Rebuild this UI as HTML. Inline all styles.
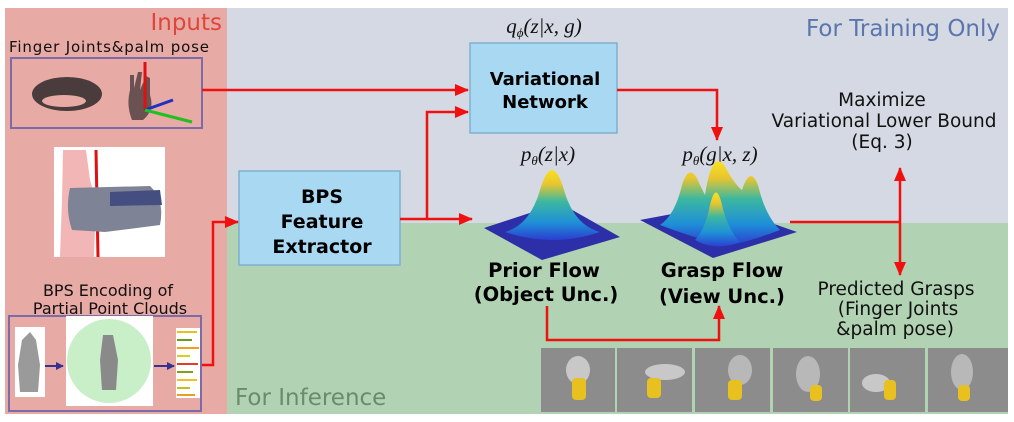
<!DOCTYPE html>
<html><head><meta charset="utf-8"><style>
html,body{margin:0;padding:0;background:#fff;}
svg{display:block;font-family:"DejaVu Sans","Liberation Sans",sans-serif;}
</style></head><body>
<svg width="1014" height="422" viewBox="0 0 1014 422" xmlns="http://www.w3.org/2000/svg">
<defs>
<linearGradient id="bell" x1="0" y1="0" x2="0" y2="1">
<stop offset="0" stop-color="#f9e11e"/><stop offset="0.2" stop-color="#e8c530"/><stop offset="0.45" stop-color="#3cb8a0"/><stop offset="0.75" stop-color="#1f8fd8"/><stop offset="1" stop-color="#2a3fd0"/>
</linearGradient>
<marker id="ah2" markerWidth="14" markerHeight="12" refX="13" refY="6" orient="auto" markerUnits="userSpaceOnUse"><path d="M0,0 L14,6 L0,12 Z" fill="#f01010"/></marker>
<marker id="bah" markerWidth="8" markerHeight="8" refX="7" refY="4" orient="auto" markerUnits="userSpaceOnUse"><path d="M0,0 L8,4 L0,8 Z" fill="#3a3090"/></marker>
</defs>
<rect x="5" y="8" width="222" height="406" fill="#e8aaa4"/>
<rect x="227" y="8" width="781" height="215" fill="#d5d9e3"/>
<rect x="227" y="223" width="781" height="191" fill="#b1d3b3"/>
<text x="222" y="30" font-size="23" fill="#e0453c" text-anchor="end">Inputs</text>
<text x="1000" y="36" font-size="23" fill="#5b76ad" text-anchor="end">For Training Only</text>
<text x="235" y="405" font-size="23" fill="#6a8c6c">For Inference</text>
<text x="9" y="52" font-size="15" fill="#111" textLength="200">Finger Joints&amp;palm pose</text>
<rect x="11" y="58" width="191" height="70" fill="none" stroke="#7d6aa8" stroke-width="2"/>
<ellipse cx="67" cy="94" rx="35" ry="17" fill="#4a3c3c"/>
<ellipse cx="64" cy="101" rx="22" ry="6" fill="#e8aaa4"/>
<path d="M130 90 L130 75 L134 75 L134 88 L138 72 L142 72 L140 90 L146 76 L150 78 L150 95 Q155 110 143 120 L132 120 Q126 105 130 90Z" fill="#6a5252"/>
<line x1="145" y1="110" x2="145" y2="62" stroke="#e01010" stroke-width="3"/>
<line x1="145" y1="110" x2="173" y2="100" stroke="#2030c0" stroke-width="3"/>
<line x1="145" y1="110" x2="192" y2="122" stroke="#20c020" stroke-width="3"/>
<rect x="54" y="147" width="111" height="110" fill="#fff"/>
<path d="M63 150 L86 150 L90 180 L96 200 L94 257 L60 257 L62 200Z" fill="#f2b6b6"/>
<line x1="96" y1="150" x2="98" y2="257" stroke="#e01010" stroke-width="3"/>
<path d="M70 188 L150 186 Q165 200 160 225 L105 232 L72 230 Q65 210 70 188Z" fill="#7f8396"/>
<path d="M110 192 L160 190 L162 205 L110 206Z" fill="#444e80"/>
<text x="108" y="296" font-size="16" fill="#111" text-anchor="middle">BPS Encoding of</text>
<text x="110" y="314" font-size="16" fill="#111" text-anchor="middle">Partial Point Clouds</text>
<rect x="9" y="316" width="192" height="95" fill="none" stroke="#7d6aa8" stroke-width="2"/>
<rect x="15" y="327" width="30" height="70" fill="#fff"/>
<path d="M22 340 L30 332 L36 340 L40 365 L38 392 L20 392 L18 365Z" fill="#9a9a9a"/>
<rect x="66" y="316" width="87" height="90" fill="#fff"/>
<circle cx="109" cy="361" r="42" fill="#c8efc8"/>
<path d="M103 335 L113 335 L118 360 L116 390 L102 390 L100 360Z" fill="#8a8a8a"/>
<rect x="176" y="328" width="24" height="70" fill="#fff"/>
<g stroke-width="2"><line x1="177" y1="332" x2="197" y2="332" stroke="#e8c020"/><line x1="177" y1="340" x2="192" y2="340" stroke="#6a9a20"/><line x1="177" y1="348" x2="199" y2="348" stroke="#f0a020"/><line x1="177" y1="356" x2="190" y2="356" stroke="#d8d020"/><line x1="177" y1="364" x2="198" y2="364" stroke="#e04020"/><line x1="177" y1="372" x2="193" y2="372" stroke="#80a020"/><line x1="177" y1="380" x2="197" y2="380" stroke="#f0c020"/><line x1="177" y1="388" x2="190" y2="388" stroke="#c0c020"/><line x1="177" y1="395" x2="195" y2="395" stroke="#e8a020"/></g>
<line x1="45" y1="366" x2="63" y2="366" stroke="#3a3090" stroke-width="2" marker-end="url(#bah)"/>
<line x1="154" y1="366" x2="174" y2="366" stroke="#3a3090" stroke-width="2" marker-end="url(#bah)"/>
<rect x="239" y="171" width="161" height="94" fill="#a8d8f2" stroke="#7fb0d0" stroke-width="1.5"/>
<text x="322" y="203" font-size="19" font-weight="bold" text-anchor="middle" fill="#000">BPS</text>
<text x="322" y="228" font-size="19" font-weight="bold" text-anchor="middle" fill="#000">Feature</text>
<text x="322" y="253" font-size="19" font-weight="bold" text-anchor="middle" fill="#000">Extractor</text>
<rect x="470" y="43" width="147" height="90" fill="#a8d8f2" stroke="#7fb0d0" stroke-width="1.5"/>
<text x="545" y="85" font-size="18" font-weight="bold" text-anchor="middle" fill="#000">Variational</text>
<text x="545" y="108" font-size="18" font-weight="bold" text-anchor="middle" fill="#000">Network</text>
<text x="544" y="33" font-size="21" font-style="italic" font-family="Liberation Serif,serif" text-anchor="middle" fill="#111">q<tspan font-size="13" dy="4">ϕ</tspan><tspan dy="-4">(z|x, g)</tspan></text>
<text x="548" y="161" font-size="21" font-style="italic" font-family="Liberation Serif,serif" text-anchor="middle" fill="#111">p<tspan font-size="13" dy="4">θ</tspan><tspan dy="-4">(z|x)</tspan></text>
<text x="720" y="161" font-size="21" font-style="italic" font-family="Liberation Serif,serif" text-anchor="middle" fill="#111">p<tspan font-size="13" dy="4">θ</tspan><tspan dy="-4">(g|x, z)</tspan></text>
<polygon points="484,228 560,203 620,237 542,260" fill="#2d2fa8"/>
<path d="M505,232 Q530,225 540,190 Q552,150 564,190 Q574,225 600,232 Q552,248 505,232Z" fill="url(#bell)"/>
<polygon points="640,220 720,205 797,232 713,258" fill="#2d2fa8"/>
<path d="M660,225 Q675,215 682,185 Q690,160 700,185 L705,195 Q712,150 724,165 Q735,185 742,190 Q750,165 758,185 Q765,215 780,230 Q740,245 725,245 Q700,240 660,225Z" fill="url(#bell)"/>
<path d="M695,240 Q705,230 710,205 Q716,180 722,205 Q728,230 740,242 Q716,252 695,240Z" fill="url(#bell)"/>
<text x="544" y="277" font-size="19.5" font-weight="bold" text-anchor="middle" fill="#000">Prior Flow</text>
<text x="546" y="301" font-size="19.5" font-weight="bold" text-anchor="middle" fill="#000">(Object Unc.)</text>
<text x="722" y="277" font-size="19.5" font-weight="bold" text-anchor="middle" fill="#000">Grasp Flow</text>
<text x="722" y="303" font-size="19.5" font-weight="bold" text-anchor="middle" fill="#000">(View Unc.)</text>
<text x="882" y="106" font-size="18.5" text-anchor="middle" fill="#111">Maximize</text>
<text x="884" y="127" font-size="18.5" text-anchor="middle" fill="#111">Variational Lower Bound</text>
<text x="882" y="148" font-size="18.5" text-anchor="middle" fill="#111">(Eq. 3)</text>
<text x="896" y="295" font-size="18.5" text-anchor="middle" fill="#111">Predicted Grasps</text>
<text x="898" y="315" font-size="18.5" text-anchor="middle" fill="#111">(Finger Joints</text>
<text x="895" y="335" font-size="18.5" text-anchor="middle" fill="#111">&amp;palm pose)</text>
<g fill="#8c8c8c">
<rect x="541" y="348" width="74" height="64"/><rect x="617" y="348" width="75" height="64"/><rect x="695" y="348" width="75" height="64"/><rect x="773" y="348" width="75" height="64"/><rect x="850" y="348" width="75" height="64"/><rect x="928" y="348" width="80" height="64"/>
</g>
<g>
<ellipse cx="578" cy="370" rx="12" ry="14" fill="#c8c8c8"/><rect x="572" y="378" width="14" height="22" rx="4" fill="#e8c020"/>
<ellipse cx="665" cy="372" rx="20" ry="8" fill="#c8c8c8"/><rect x="647" y="378" width="14" height="20" rx="4" fill="#e8c020"/>
<ellipse cx="740" cy="370" rx="12" ry="15" fill="#b8b8b8"/><rect x="728" y="380" width="14" height="20" rx="4" fill="#e8c020"/>
<ellipse cx="808" cy="374" rx="12" ry="18" fill="#b8b8b8"/><rect x="810" y="385" width="12" height="16" rx="4" fill="#e8c020"/>
<ellipse cx="876" cy="383" rx="14" ry="9" fill="#c8c8c8"/><rect x="884" y="380" width="12" height="20" rx="4" fill="#e8c020"/>
<ellipse cx="962" cy="372" rx="11" ry="18" fill="#b8b8b8"/><rect x="958" y="385" width="12" height="16" rx="4" fill="#e8c020"/>
</g>
<g fill="none" stroke="#f01010" stroke-width="2.5">
<line x1="202" y1="90" x2="468" y2="90" marker-end="url(#ah2)"/>
<polyline points="400,219 427,219 427,112 468,112" marker-end="url(#ah2)"/>
<line x1="427" y1="219" x2="472" y2="219" marker-end="url(#ah2)"/>
<polyline points="617,90 717,90 717,140" marker-end="url(#ah2)"/>
<polyline points="202,365 213,365 213,222 238,222" marker-end="url(#ah2)"/>
<line x1="790" y1="222" x2="900" y2="222"/>
<line x1="900" y1="200" x2="900" y2="168" marker-end="url(#ah2)"/>
<line x1="900" y1="200" x2="900" y2="275" marker-end="url(#ah2)"/>
<polyline points="547,306 547,340 719,340 719,306" marker-end="url(#ah2)"/>
</g>
</svg>
</body></html>
